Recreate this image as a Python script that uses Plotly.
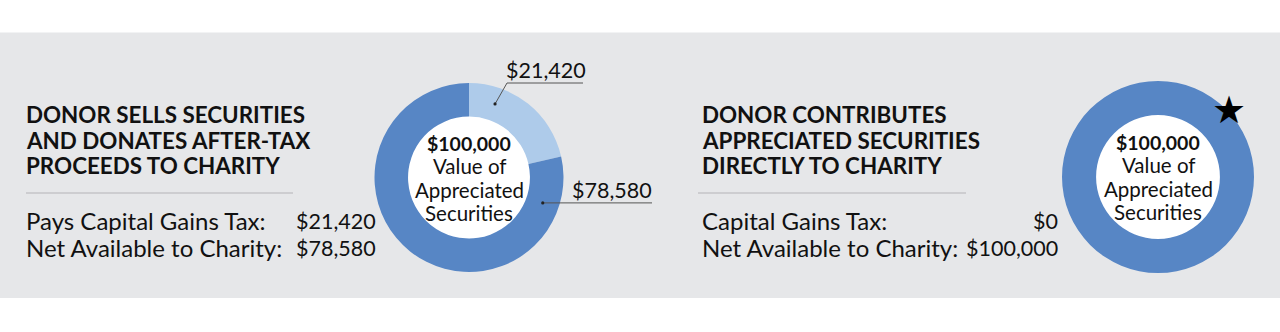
import math
import plotly.graph_objects as go

W, H = 1280, 332

# ---- data ----
headings_sell = ["DONOR SELLS SECURITIES", "AND DONATES AFTER-TAX", "PROCEEDS TO CHARITY"]
headings_give = ["DONOR CONTRIBUTES", "APPRECIATED SECURITIES", "DIRECTLY TO CHARITY"]
row_labels_sell = ["Pays Capital Gains Tax:", "Net Available to Charity:"]
row_labels_give = ["Capital Gains Tax:", "Net Available to Charity:"]
slice_names = ["Capital Gains Tax", "Net Available to Charity"]
sell_values = [21420, 78580]
give_values = [0, 100000]
center_lines = ["$100,000", "Value of", "Appreciated", "Securities"]

FONT = "Lato"
DARK = "#5786c5"
LIGHT = "#aecbea"
BAND = "#e6e7e9"
INK = "#111111"


def px(x):
    return x / W


def py(y):
    return 1 - y / H


def money(v):
    return "${:,}".format(v)


fig = go.Figure()

HOLE = 0.645
donuts = [
    dict(vals=sell_values, cx=469, cy=177.5, r=94.5),
    dict(vals=give_values, cx=1158, cy=177, r=96),
]
for d in donuts:
    fig.add_trace(go.Pie(
        values=d["vals"], labels=slice_names, sort=False, direction="clockwise",
        rotation=0, hole=HOLE, textinfo="none", hoverinfo="label+value",
        marker=dict(colors=[LIGHT, DARK], line=dict(width=0)),
        domain=dict(x=[px(d["cx"] - d["r"]), px(d["cx"] + d["r"])],
                    y=[py(d["cy"] + d["r"]), py(d["cy"] - d["r"])]),
        showlegend=False,
    ))

shapes = [
    dict(type="rect", xref="paper", yref="paper", x0=0, x1=1, y0=py(298), y1=py(32.5),
         fillcolor=BAND, line=dict(width=0), layer="below"),
    dict(type="line", xref="paper", yref="paper", x0=px(26), x1=px(293), y0=py(193), y1=py(193),
         line=dict(color="#c4c5c7", width=1.5)),
    dict(type="line", xref="paper", yref="paper", x0=px(698), x1=px(966), y0=py(193), y1=py(193),
         line=dict(color="#c4c5c7", width=1.5)),
]
# white hole backgrounds
for d in donuts:
    hr = d["r"] * HOLE + 1
    shapes.append(dict(type="circle", xref="paper", yref="paper", layer="below",
                       x0=px(d["cx"] - hr), x1=px(d["cx"] + hr),
                       y0=py(d["cy"] + hr), y1=py(d["cy"] - hr),
                       fillcolor="white", line=dict(width=0)))

ann = []


def text(x, y, s, size, anchor="left", bold=False, color=INK):
    ann.append(dict(xref="paper", yref="paper", x=px(x), y=py(y), text=("<b>%s</b>" % s) if bold else s,
                    showarrow=False, xanchor=anchor, yanchor="middle",
                    font=dict(family=FONT, size=size, color=color)))


# headings
for i, h in enumerate(headings_sell):
    text(24, 115 + 25 * i, h, 22.4, bold=True)
for i, h in enumerate(headings_give):
    text(700, 115 + 25 * i, h, 22.4, bold=True)

# rows
sell_rows = list(zip(row_labels_sell, sell_values))
give_rows = list(zip(row_labels_give, give_values))
for i, (lab, v) in enumerate(sell_rows):
    text(24, 221 + 26.5 * i, lab, 24)
    text(378, 221 + 26.5 * i, money(v), 21.5, anchor="right")
for i, (lab, v) in enumerate(give_rows):
    text(700, 221 + 26.5 * i, lab, 24)
    text(1060, 221 + 26.5 * i, money(v), 21.5, anchor="right")

# center text
for d in donuts:
    for i, s in enumerate(center_lines):
        text(d["cx"], 143 + 23.3 * i - (0 if d is donuts[0] else 1), s, 20.5 if i else 19.5,
             anchor="center", bold=(i == 0))

# leader labels for left donut
cx, cy = donuts[0]["cx"], donuts[0]["cy"]
mid_r = 78
leaders = [
    dict(angle=19.5, text=money(sell_values[0]), x_end=583, y_line=83, x_text=546),
    dict(angle=109, text=money(sell_values[1]), x_end=652, y_line=204, x_text=612),
]
for i, L in enumerate(leaders):
    a = math.radians(L["angle"])
    dx, dy = cx + mid_r * math.sin(a), cy - mid_r * math.cos(a)
    if i == 0:
        kx = 507
        shapes.append(dict(type="line", xref="paper", yref="paper", x0=px(dx), y0=py(dy), x1=px(kx), y1=py(L["y_line"]),
                           line=dict(color="#555555", width=1)))
        shapes.append(dict(type="line", xref="paper", yref="paper", x0=px(kx), y0=py(L["y_line"]), x1=px(L["x_end"]), y1=py(L["y_line"]),
                           line=dict(color="#555555", width=1)))
    else:
        shapes.append(dict(type="line", xref="paper", yref="paper", x0=px(dx), y0=py(dy), x1=px(L["x_end"]), y1=py(dy),
                           line=dict(color="#555555", width=1)))
    shapes.append(dict(type="circle", xref="paper", yref="paper", x0=px(dx - 1.6), x1=px(dx + 1.6),
                       y0=py(dy + 1.6), y1=py(dy - 1.6), fillcolor="#222222", line=dict(width=0)))
    text(L["x_text"], (L["y_line"] if i == 0 else dy) - 13, L["text"], 21.5, anchor="center")

# star on right donut
ann.append(dict(xref="paper", yref="paper", x=px(1229), y=py(110), text="★", showarrow=False,
                xanchor="center", yanchor="middle", font=dict(family="DejaVu Sans", size=38, color="#000000")))

fig.update_layout(width=W, height=H, margin=dict(l=0, r=0, t=0, b=0),
                  paper_bgcolor="white", plot_bgcolor="white",
                  shapes=shapes, annotations=ann)

fig.write_html("out.html")
